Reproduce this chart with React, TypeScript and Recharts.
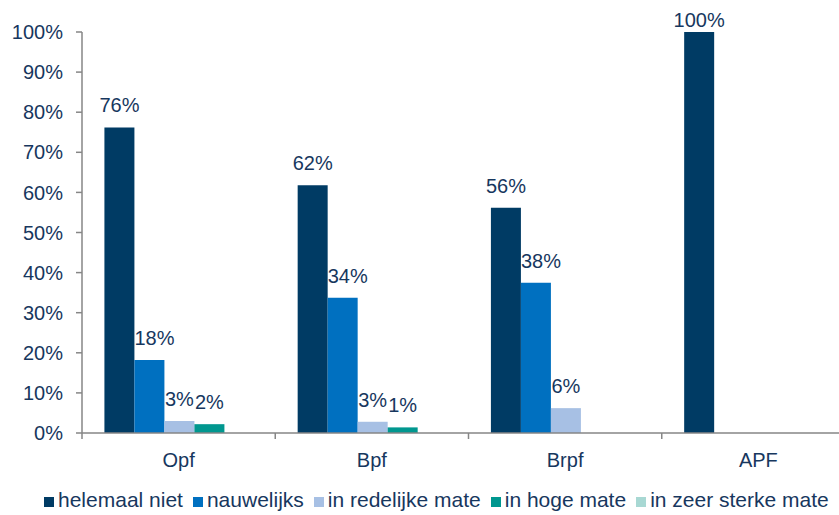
import React from "react";
import { BarChart, Bar, XAxis, YAxis, Legend, LabelList } from "recharts";

const categories = ["Opf", "Bpf", "Brpf", "APF"];
const seriesNames = [
  "helemaal niet",
  "nauwelijks",
  "in redelijke mate",
  "in hoge mate",
  "in zeer sterke mate",
];
const helemaalNiet = [76.2, 61.8, 56.2, 100];
const nauwelijks = [18.2, 33.7, 37.5, 0];
const inRedelijkeMate = [3.0, 2.8, 6.2, 0];
const inHogeMate = [2.2, 1.4, 0, 0];
const inZeerSterkeMate = [0, 0, 0, 0];
const yTicks = [0, 10, 20, 30, 40, 50, 60, 70, 80, 90, 100];

const seriesValues = [helemaalNiet, nauwelijks, inRedelijkeMate, inHogeMate, inZeerSterkeMate];
const colors = ["#003B64", "#0070C0", "#A7C0E4", "#00978F", "#A8D8D3"];
const keys = ["s0", "s1", "s2", "s3", "s4"];
const labelAnchors = ["middle", "start", "middle", "middle", "middle"];

const data = categories.map((c, i) => {
  const row: Record<string, any> = { name: c };
  keys.forEach((k, j) => {
    row[k] = seriesValues[j][i];
  });
  return row;
});

const TEXT = "#17375E";
const AXIS = "#868686";
const FONT = "'Liberation Sans', Arial, sans-serif";

const XTick = (props: any) => {
  const { x, y, payload, index, visibleTicksCount } = props;
  const off = payload && payload.offset ? payload.offset : 0;
  const axisY = y - 20;
  return (
    <g>
      <line x1={x - off} x2={x - off} y1={axisY} y2={axisY + 6} stroke={AXIS} strokeWidth={1.5} />
      {index === (visibleTicksCount ?? 4) - 1 && (
        <line x1={x + off} x2={x + off} y1={axisY} y2={axisY + 6} stroke={AXIS} strokeWidth={1.5} />
      )}
      <text x={x} y={y} dy="0.71em" textAnchor="middle" fill={TEXT} fontSize={20} fontFamily={FONT}>
        {payload.value}
      </text>
    </g>
  );
};

const makeLabel = (anchor: string) => (props: any) => {
  const { x, y, width, value } = props;
  if (!value) return null;
  return (
    <text
      x={anchor === "start" ? x : x + width / 2}
      y={Math.max(y - 15, 27)}
      textAnchor={anchor}
      fill={TEXT}
      fontSize={20}
      fontFamily={FONT}
    >
      {Math.round(value)}%
    </text>
  );
};

const renderLegend = () => (
  <div
    style={{
      display: "flex",
      alignItems: "center",
      height: 24,
      paddingLeft: 44,
      fontFamily: FONT,
      fontSize: 21,
      color: TEXT,
      whiteSpace: "nowrap",
    }}
  >
    {seriesNames.map((n, i) => (
      <div key={n} style={{ display: "flex", alignItems: "center", marginRight: 10 }}>
        <span
          style={{
            display: "inline-block",
            width: 10,
            height: 10,
            background: colors[i],
            marginRight: 4,
            marginTop: 3,
          }}
        />
        <span>{n}</span>
      </div>
    ))}
  </div>
);

export default function App() {
  return (
    <div
      style={{
        position: "fixed",
        left: 0,
        top: 0,
        width: 839,
        height: 515,
        overflow: "hidden",
        background: "#fff",
      }}
    >
      <BarChart
        width={855}
        height={515}
        data={data}
        margin={{ top: 32, right: 0, left: 0, bottom: 28 }}
        barCategoryGap="11.6%"
        barGap={0}
      >
        <YAxis
          width={82}
          domain={[0, 100]}
          ticks={yTicks}
          interval={0}
          tickFormatter={(v: number) => `${v}%`}
          tick={{ fill: TEXT, fontSize: 20, fontFamily: FONT }}
          tickSize={6}
          tickMargin={13}
          axisLine={{ stroke: AXIS, strokeWidth: 1.5 }}
          tickLine={{ stroke: AXIS, strokeWidth: 1.5 }}
        />
        <XAxis
          dataKey="name"
          height={30}
          interval={0}
          tick={<XTick />}
          tickLine={false}
          tickSize={6}
          tickMargin={14}
          axisLine={{ stroke: AXIS, strokeWidth: 1.5 }}
        />
        <Legend
          verticalAlign="bottom"
          content={renderLegend}
          wrapperStyle={{ left: 0, bottom: 3, width: 839, height: 24 }}
        />
        {keys.map((k, i) => (
          <Bar key={k} dataKey={k} name={seriesNames[i]} fill={colors[i]} isAnimationActive={false}>
            <LabelList dataKey={k} content={makeLabel(labelAnchors[i])} />
          </Bar>
        ))}
      </BarChart>
    </div>
  );
}
